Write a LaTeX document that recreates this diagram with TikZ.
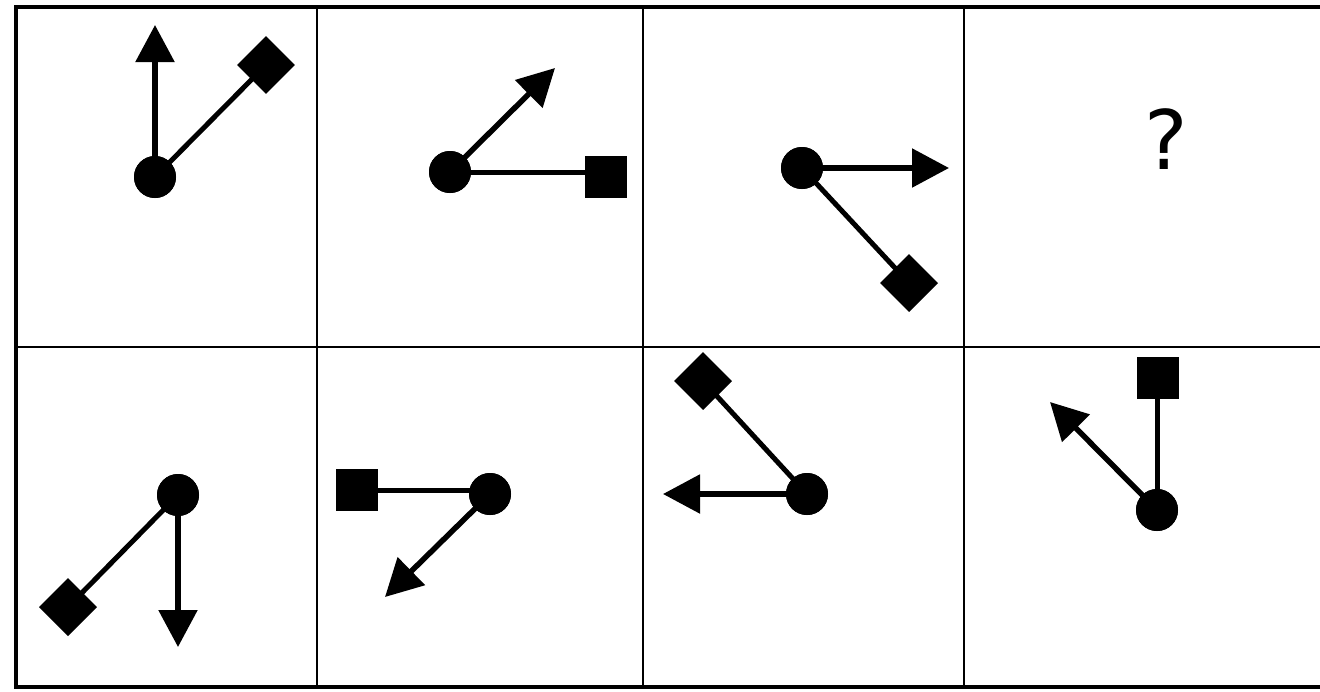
\documentclass[tikz,border=0pt]{standalone}
\usepackage{fontspec}
\setmainfont{DejaVu Sans}
\usetikzlibrary{arrows.meta}
\begin{document}
\begin{tikzpicture}[x=1pt,y=-1pt,
  dot/.style={circle,fill=black,inner sep=0pt,minimum size=42pt},
  sq/.style={rectangle,fill=black,inner sep=0pt,minimum size=42pt},
  dia/.style={rectangle,fill=black,inner sep=0pt,minimum size=41pt,rotate=45},
  link/.style={line width=5pt},
  arr/.style={line width=5.5pt,-{Triangle[length=37pt,width=38pt]}},
  frame/.style={line width=4pt},
  grid/.style={line width=2.5pt}]
\useasboundingbox (0,0) rectangle (1320,691);
% grid
\draw[grid] (317,7) -- (317,687) (643,7) -- (643,687) (964,7) -- (964,687);
\draw[grid] (16,347) -- (1325,347);
\draw[frame] (1325,7) -- (16,7) -- (16,687) -- (1325,687);
% panel 1
\node[dot] (c1) at (155,177) {};
\node[dia] (d1) at (266,65) {};
\coordinate (t1) at (155,25);
\draw[link] (c1.center) -- (d1.center);
\draw[arr] (c1.center) -- (t1);
\node[dot] at (c1) {};
% panel 2
\node[dot] (c2) at (450,172) {};
\node[sq] (s2) at (606,177) {};
\coordinate (t2) at (555,68);
\draw[link] (c2.center) -- (c2.center -| s2.center);
\draw[arr] (c2.center) -- (t2);
\node[dot] at (c2) {};
% panel 3
\node[dot] (c3) at (802,168) {};
\node[dia] (d3) at (909,283) {};
\coordinate (t3) at (949,168);
\draw[link] (c3.center) -- (d3.center);
\draw[arr] (c3.center) -- (t3);
\node[dot] at (c3) {};
% panel 4
\node[font=\fontsize{82}{82}\selectfont] (q) at (1166,139) {?};
% panel 5
\node[dot] (c5) at (178,495) {};
\node[dia] (d5) at (68,607) {};
\coordinate (t5) at (178,647);
\draw[link] (c5.center) -- (d5.center);
\draw[arr] (c5.center) -- (t5);
\node[dot] at (c5) {};
% panel 6
\node[dot] (c6) at (490,494) {};
\node[sq] (s6) at (357,490) {};
\coordinate (t6) at (385,597);
\draw[link] (s6.center) -- (s6.center -| c6.center);
\draw[arr] (c6.center) -- (t6);
\node[dot] at (c6) {};
% panel 7
\node[dot] (c7) at (807,494) {};
\node[dia] (d7) at (703,381) {};
\coordinate (t7) at (663,494);
\draw[link] (c7.center) -- (d7.center);
\draw[arr] (c7.center) -- (t7);
\node[dot] at (c7) {};
% panel 8
\node[dot] (c8) at (1157,510) {};
\node[sq] (s8) at (1158,378) {};
\coordinate (t8) at (1050,402);
\draw[link] (c8.center) -- (c8.center |- s8.center);
\draw[arr] (c8.center) -- (t8);
\node[dot] at (c8) {};
\end{tikzpicture}
\end{document}
